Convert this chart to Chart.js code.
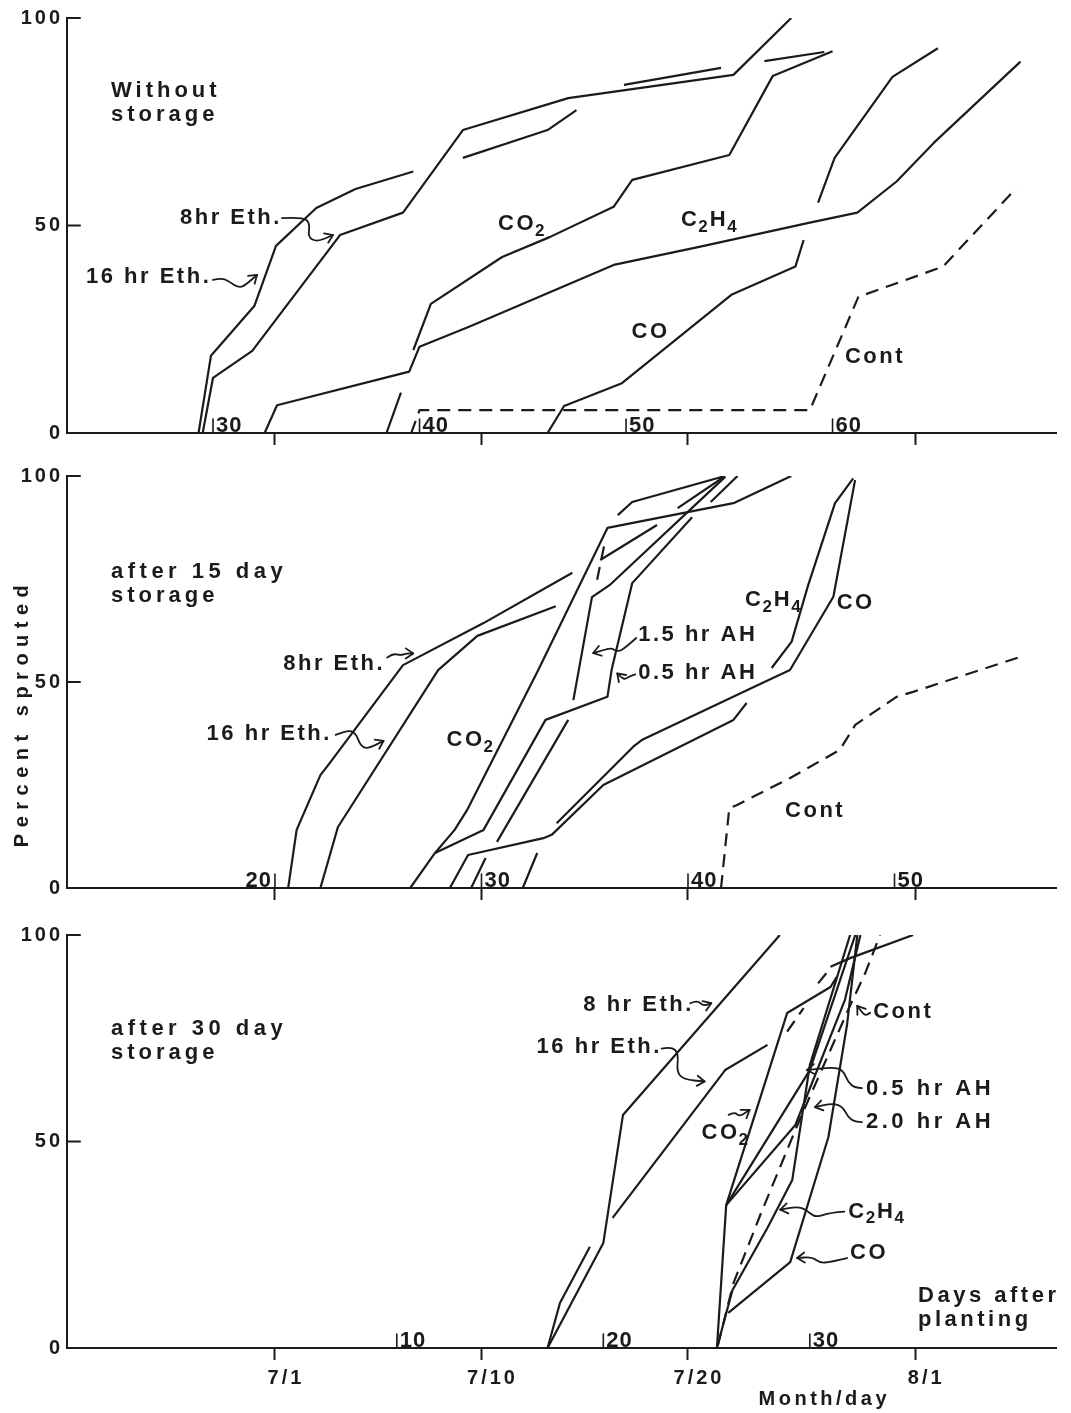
<!DOCTYPE html>
<html>
<head>
<meta charset="utf-8">
<script src="https://cdn.jsdelivr.net/npm/chart.js@4.4.1/dist/chart.umd.min.js"></script>
<style>
  html, body { margin: 0; padding: 0; background: #fff; }
  body { width: 1071px; height: 1413px; position: relative; overflow: hidden; }
  canvas { position: absolute; left: 0; }
</style>
</head>
<body>
<canvas id="c1" width="1071" height="460" style="top:0px"></canvas>
<canvas id="c2" width="1071" height="455" style="top:460px"></canvas>
<canvas id="c3" width="1071" height="498" style="top:915px"></canvas>
<script>
// ---------------- DATA (x = days after 7/1, y = percent sprouted) ----------------
const monthTickValues = [0, 10, 20, 31];
const monthTickLabels = ['7/1', '7/10', '7/20', '8/1'];
const yTickValues = [0, 50, 100];

// "days after planting" inner ticks, and the planting offset (days from planting to 7/1)
const days1 = [30, 40, 50, 60];  const plantOffset1 = 33;
const days2 = [20, 30, 40, 50];  const plantOffset2 = 20;
const days3 = [10, 20, 30];      const plantOffset3 = 4.1;

// Panel 1: without storage
const p1_eth16 = [[-3.7,0],[-3.1,18.6],[-1.0,30.6],[0.05,45.1],[2.0,54.2],[3.9,58.8],[6.7,63.0],null,[9.1,66.3],[13.2,73.0],[14.6,77.8],null,[16.9,83.9],[21.6,88.0],null,[23.7,89.6],[26.6,91.8]];
const p1_eth8  = [[-3.5,0],[-3.0,13.3],[-1.1,19.8],[3.15,47.7],[6.2,53.1],[9.1,73.0],[14.2,80.7],[22.2,86.3],[25.0,100]];
const p1_co2   = [[5.4,0],[6.1,9.7],null,[6.7,20.0],[7.55,31.1],[11.0,42.4],[13.3,47.2],[16.4,54.5],[17.3,61.0],[22.0,67.0],[24.1,86.0],[27.0,92.0]];
const p1_c2h4  = [[-0.5,0],[0.1,6.7],[6.5,14.8],[7.0,20.8],[9.4,25.6],[16.4,40.5],[20.6,44.9],[25.9,50.7],[28.2,53.1],[30.1,60.6],[31.9,69.9],[36.1,89.5]];
const p1_co    = [[13.2,0],[14.0,6.5],[16.8,12.0],[22.1,33.3],[25.2,40.1],[25.6,46.5],null,[26.3,55.5],[27.1,66.3],[29.9,85.8],[32.1,92.7]];
const p1_cont  = [[6.6,0],[7.0,5.5],[25.9,5.5],[28.25,32.8],[32.35,40.1],[35.9,59.0]];

// Panel 2: after 15 day storage
const p2_eth8  = [[0.64,0],[1.05,14.1],[2.2,27.4],[2.65,30.3],[6.2,54.1],[10.1,64.3],[14.4,76.5]];
const p2_eth16 = [[2.2,0],[3.05,14.8],[7.9,52.9],[9.8,61.2],[13.6,68.4]];
const p2_co2   = [[6.55,0],[7.75,8.5],[8.7,14.1],[9.3,18.9],[12.75,52.9],[16.1,87.4],[22.2,93.4],[25.0,100]];
const p2_ah05  = [[7.75,8.5],[10.1,14.1],[13.1,40.8],[16.1,46.4],[16.3,52.9],[17.3,74.0],[20.2,90.0],null,[21.1,93.7],[22.4,100]];
const p2_ah15  = [[9.5,0],[10.2,7.3],null,[10.75,11.2],[14.2,40.8],null,[14.45,45.6],[15.35,70.6],[16.2,73.5],[21.8,99.8]];
const p2_other = [[12.0,0],[12.7,8.5],null,[15.75,79.6],[18.5,88.1],null,[19.5,92.2],[21.8,100],null,[16.6,90.5],[17.3,93.7],[21.8,100]];
const p2_otherDash = [[15.6,74.8],[15.95,83.3]];
const p2_c2h4  = [[8.47,0],[9.35,8.0],[13.0,12.1],[13.4,12.9],[15.9,25.0],[22.2,40.8],[22.84,44.9],null,[24.05,53.4],[25.02,59.8],[25.82,73.5],[27.12,93.4],[28.0,99.4]];
const p2_co    = [[13.64,15.7],[17.35,34.3],[17.76,35.9],[23.57,49.7],[24.94,52.9],[27.04,70.7],[28.09,99.0]];
const p2_cont  = [[21.6,0],[22.0,19.4],[22.35,20.1],[24.95,26.7],[27.35,33.5],[28.1,39.6],[30.1,46.4],[30.9,47.6],[36.1,56.1]];

// Panel 3: after 30 day storage
const p3_eth8  = [[13.2,0],[15.9,25.4],[16.85,56.4],[24.45,100]];
const p3_eth16 = [[13.2,0],[13.8,10.9],[15.25,24.5],null,[16.35,31.5],[21.8,67.3],[23.85,73.4],null,[26.9,92.3],[27.85,94.4],[30.9,100]];
const p3_co2   = [[21.4,0],[21.85,34.6],[24.8,81.1],[26.9,87.4],[27.2,89.8]];
const p3_ah05  = [[21.85,34.6],[25.9,67.3],[28.1,100]];
const p3_ah20  = [[21.85,34.6],[25.2,54.0],[27.6,84.3],[28.35,100]];
const p3_c2h4  = [[21.4,0],[22.15,14.0],[23.85,29.1],[25.05,40.7],[25.9,68.5],[27.85,100]];
const p3_co    = [[21.95,8.5],[24.95,20.8],[26.8,51.1],[27.7,78.2],[28.2,100]];
const p3_cont  = [[21.45,0.7],[22.2,15.7],[23.5,32.2],[25.4,55.2],[27.75,81.8],[28.6,91.0],[29.3,100]];
const p3_dashExtra = [[24.8,76.6],[25.6,82.3],null,[26.3,88.3],[26.95,92.3]];

// ---------------- STYLE / LAYOUT ----------------
const FONT = '"Liberation Sans", Arial, Helvetica, sans-serif';
const INK = '#1b1b1b';
const xMin = -10.07, xMax = 37.82;

function toPts(arr) {
  const out = []; let lastX = 0;
  for (const p of arr) {
    if (p) { out.push({x: p[0], y: p[1]}); lastX = p[0]; }
    else out.push({x: lastX, y: null});
  }
  return out;
}

function setFont(ctx, size, spacing) {
  ctx.font = 'bold ' + size + 'px ' + FONT;
  ctx.letterSpacing = (spacing || 0) + 'px';
}

function drawRich(ctx, text, x, y, size, spacing) {
  const parts = text.split(/(_\d)/).filter(Boolean);
  let cx = x;
  for (const p of parts) {
    if (p[0] === '_') {
      setFont(ctx, Math.round(size * 0.78), 0);
      ctx.fillText(p[1], cx - 1, y + size * 0.32);
      cx += ctx.measureText(p[1]).width + 1;
    } else {
      setFont(ctx, size, spacing);
      ctx.fillText(p, cx, y);
      cx += ctx.measureText(p).width;
    }
  }
}

function drawArrow(ctx, pts) {
  ctx.beginPath();
  ctx.moveTo(pts[0][0], pts[0][1]);
  for (let i = 1; i < pts.length - 1; i++) {
    const mx = (pts[i][0] + pts[i + 1][0]) / 2, my = (pts[i][1] + pts[i + 1][1]) / 2;
    ctx.quadraticCurveTo(pts[i][0], pts[i][1], mx, my);
  }
  const e = pts[pts.length - 1], p = pts[pts.length - 2];
  ctx.lineTo(e[0], e[1]);
  ctx.stroke();
  const a = Math.atan2(e[1] - p[1], e[0] - p[0]);
  const L = 9, w = 0.6;
  ctx.beginPath();
  ctx.moveTo(e[0] - L * Math.cos(a - w), e[1] - L * Math.sin(a - w));
  ctx.lineTo(e[0], e[1]);
  ctx.lineTo(e[0] - L * Math.cos(a + w), e[1] - L * Math.sin(a + w));
  ctx.stroke();
}

const panels = [
  {
    id: 'c1', top: 18, xAxisH: 27, monthLabels: false,
    days: days1, plantOffset: plantOffset1, leftDayLabels: [],
    series: [
      {name: '16 hr Eth.', data: p1_eth16}, {name: '8hr Eth.', data: p1_eth8},
      {name: 'CO2', data: p1_co2}, {name: 'C2H4', data: p1_c2h4},
      {name: 'CO', data: p1_co}, {name: 'Cont', data: p1_cont, dash: true}
    ],
    labels: [
      {t: 'Without', x: -7.94, y: 82.4, sp: 4},
      {t: 'storage', x: -7.94, y: 76.6, sp: 4},
      {t: '8hr Eth.', x: -4.6, y: 51.8, arrow: [[102,0],[123,-1],[130,5],[128,19],[137,24],[153,17]]},
      {t: '16 hr Eth.', x: -9.15, y: 37.6, arrow: [[127,3],[136,1],[144,5],[151,10],[157,10],[171,-2]]},
      {t: 'CO_2', x: 10.8, y: 50.4},
      {t: 'C_2H_4', x: 19.66, y: 51.3},
      {t: 'CO', x: 17.27, y: 24.4},
      {t: 'Cont', x: 27.6, y: 18.4}
    ]
  },
  {
    id: 'c2', top: 16, xAxisH: 27, monthLabels: false,
    days: days2, plantOffset: plantOffset2, leftDayLabels: [20],
    series: [
      {name: '8hr Eth.', data: p2_eth8}, {name: '16 hr Eth.', data: p2_eth16},
      {name: 'CO2', data: p2_co2}, {name: '0.5 hr AH', data: p2_ah05},
      {name: '1.5 hr AH', data: p2_ah15}, {name: 'unlabeled', data: p2_other},
      {name: 'unlabeled dashed', data: p2_otherDash, dash: true},
      {name: 'C2H4', data: p2_c2h4}, {name: 'CO', data: p2_co},
      {name: 'Cont', data: p2_cont, dash: true}
    ],
    labels: [
      {t: 'after 15 day', x: -7.94, y: 76.7, sp: 4.5},
      {t: 'storage', x: -7.94, y: 70.9, sp: 4},
      {t: '8hr Eth.', x: 0.4, y: 54.5, arrow: [[104,-6],[110,-10],[117,-8],[124,-10],[130,-10]]},
      {t: '16 hr Eth.', x: -3.31, y: 37.4, arrow: [[129,1],[141,-4],[149,-1],[154,12],[161,15],[177,7]]},
      {t: 'CO_2', x: 8.31, y: 35.9},
      {t: '1.5 hr AH', x: 17.59, y: 61.4, arrow: [[-2,3],[-12,12],[-20,17],[-27,13],[-35,15],[-45,18]]},
      {t: '0.5 hr AH', x: 17.59, y: 52.1, arrow: [[-3,1],[-9,3],[-13,6],[-17,4],[-21,0]]},
      {t: 'C_2H_4', x: 22.76, y: 69.9},
      {t: 'CO', x: 27.2, y: 69.1},
      {t: 'Cont', x: 24.7, y: 18.7}
    ]
  },
  {
    id: 'c3', top: 20, xAxisH: 65, monthLabels: true,
    days: days3, plantOffset: plantOffset3, leftDayLabels: [],
    series: [
      {name: '8 hr Eth.', data: p3_eth8}, {name: '16 hr Eth.', data: p3_eth16},
      {name: 'CO2', data: p3_co2}, {name: '0.5 hr AH', data: p3_ah05},
      {name: '2.0 hr AH', data: p3_ah20}, {name: 'C2H4', data: p3_c2h4},
      {name: 'CO', data: p3_co}, {name: 'Cont', data: p3_cont, dash: true},
      {name: 'dashed extra', data: p3_dashExtra, dash: true}
    ],
    labels: [
      {t: 'after 30 day', x: -7.94, y: 77.2, sp: 4.5},
      {t: 'storage', x: -7.94, y: 71.4, sp: 4},
      {t: '8 hr Eth.', x: 14.93, y: 83.0, arrow: [[107,-2],[114,-5],[120,1],[128,-2]]},
      {t: '16 hr Eth.', x: 12.67, y: 73.0, arrow: [[125,2],[135,0],[142,7],[140,25],[147,33],[168,35]]},
      {t: 'CO_2', x: 20.66, y: 52.1, arrow: [[27,-18],[33,-21],[38,-16],[48,-23]]},
      {t: 'Cont', x: 28.97, y: 81.4, arrow: [[-3,1],[-7,4],[-11,1],[-16,-6]]},
      {t: '0.5 hr AH', x: 28.62, y: 62.7, sp: 3.5, arrow: [[-4,-1],[-11,-1],[-18,-7],[-23,-19],[-33,-22],[-59,-19]]},
      {t: '2.0 hr AH', x: 28.62, y: 54.7, sp: 3.5, arrow: [[-4,0],[-11,0],[-18,-5],[-23,-15],[-33,-19],[-51,-15]]},
      {t: 'C_2H_4', x: 27.76, y: 33.0, arrow: [[-4,0],[-18,1],[-33,6],[-42,-2],[-51,-5],[-68,-2]]},
      {t: 'CO', x: 27.85, y: 23.0, arrow: [[-3,5],[-20,9],[-30,10],[-38,4],[-53,5]]},
      {t: 'Days after', x: 31.14, y: 12.6, sp: 3.5},
      {t: 'planting', x: 31.14, y: 6.8, sp: 3.5}
    ]
  }
];

function decorPlugin(p, idx) {
  return {
    id: 'decor' + idx,
    beforeDraw(chart) { chart.ctx.letterSpacing = '3px'; },
    afterDraw(chart) {
      const ctx = chart.ctx, xs = chart.scales.x, ys = chart.scales.y, a = chart.chartArea;
      ctx.save();
      ctx.strokeStyle = INK; ctx.fillStyle = INK; ctx.lineWidth = 2; ctx.lineCap = 'round';
      // inward y ticks
      for (const v of yTickValues) {
        if (v === 0) continue;
        const y = ys.getPixelForValue(v);
        ctx.beginPath(); ctx.moveTo(a.left, y); ctx.lineTo(a.left + 13, y); ctx.stroke();
      }
      // days-after-planting inner ticks
      ctx.lineWidth = 1.6;
      ctx.textBaseline = 'alphabetic';
      for (const d of p.days) {
        const x = xs.getPixelForValue(d - p.plantOffset);
        ctx.beginPath(); ctx.moveTo(x, a.bottom); ctx.lineTo(x, a.bottom - 14); ctx.stroke();
        setFont(ctx, 22, 1);
        if (p.leftDayLabels.includes(d)) { ctx.textAlign = 'right'; ctx.fillText(String(d), x - 3, a.bottom - 1); }
        else { ctx.textAlign = 'left'; ctx.fillText(String(d), x + 3, a.bottom - 1); }
      }
      // text labels and arrows
      ctx.textAlign = 'left'; ctx.textBaseline = 'middle';
      ctx.lineWidth = 1.8; ctx.lineJoin = 'round';
      for (const l of p.labels) {
        const lx = xs.getPixelForValue(l.x), ly = ys.getPixelForValue(l.y);
        drawRich(ctx, l.t, lx, ly, 22, l.sp !== undefined ? l.sp : 2.5);
        if (l.arrow) drawArrow(ctx, l.arrow.map(o => [lx + o[0], ly + o[1]]));
      }
      // axis titles
      if (idx === 1) {
        ctx.save();
        ctx.translate(22, ys.getPixelForValue(42.5));
        ctx.rotate(-Math.PI / 2);
        ctx.textAlign = 'center';
        setFont(ctx, 20, 6.5);
        ctx.fillText('Percent sprouted', 0, 0);
        ctx.restore();
      }
      if (idx === 2) {
        ctx.textAlign = 'center';
        setFont(ctx, 20, 3.5);
        ctx.fillText('Month/day', xs.getPixelForValue(26.6), a.bottom + 51);
      }
      ctx.restore();
    }
  };
}

panels.forEach((p, idx) => {
  const datasets = p.series.map(s => ({
    label: s.name,
    data: toPts(s.data),
    borderColor: INK,
    borderWidth: 2.2,
    borderDash: s.dash ? [13, 8] : [],
    borderJoinStyle: 'round',
    pointRadius: 0,
    tension: 0,
    fill: false,
    spanGaps: false
  }));
  new Chart(document.getElementById(p.id), {
    type: 'line',
    data: { datasets },
    options: {
      responsive: false,
      animation: false,
      devicePixelRatio: 1,
      events: [],
      layout: { padding: { left: 0, right: 15, top: p.top, bottom: 0 } },
      plugins: { legend: { display: false }, tooltip: { enabled: false } },
      scales: {
        x: {
          type: 'linear', min: xMin, max: xMax,
          afterBuildTicks: s => { s.ticks = monthTickValues.map(v => ({ value: v })); },
          afterFit: s => { s.height = p.xAxisH; },
          grid: { display: true, drawOnChartArea: false, drawTicks: true, tickLength: 12, tickWidth: 2, color: INK },
          border: { display: true, color: INK, width: 2 },
          ticks: {
            display: p.monthLabels, padding: 6, labelOffset: 11, color: INK,
            maxRotation: 0, autoSkip: false,
            font: { family: FONT, size: 20, weight: 'bold' },
            callback: (v, i) => monthTickLabels[i]
          }
        },
        y: {
          min: 0, max: 100,
          afterBuildTicks: s => { s.ticks = yTickValues.map(v => ({ value: v })); },
          afterFit: s => { s.width = 67; },
          grid: { display: true, drawOnChartArea: false, drawTicks: false },
          border: { display: true, color: INK, width: 2 },
          ticks: { padding: 4, color: INK, font: { family: FONT, size: 20, weight: 'bold' } }
        }
      }
    },
    plugins: [decorPlugin(p, idx)]
  });
});
</script>
</body>
</html>
